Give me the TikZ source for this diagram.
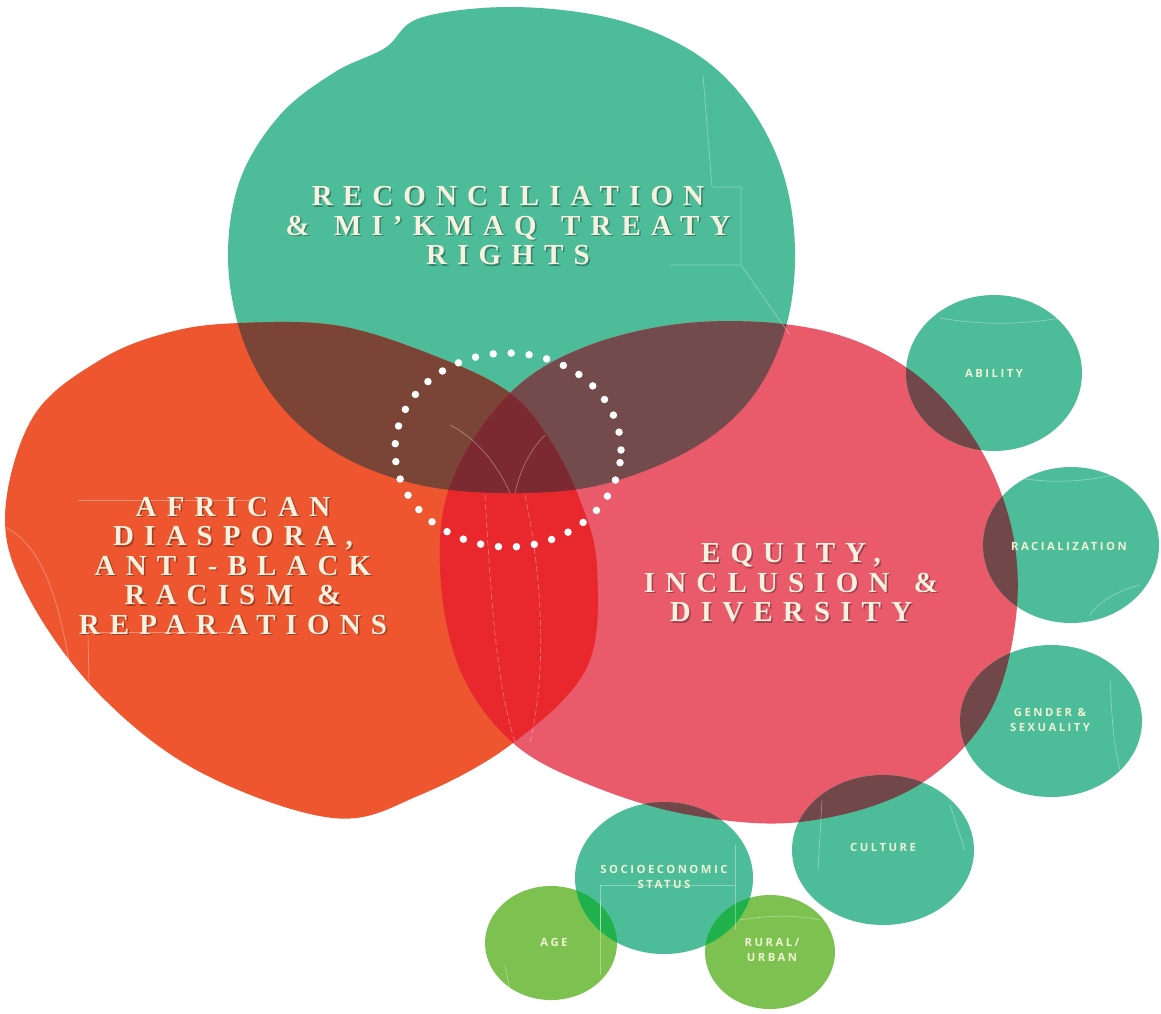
\documentclass[tikz,border=0pt]{standalone}
\usepackage{fontspec}
\setmainfont{Liberation Serif}
\newfontfamily\labelfont[LetterSpace=35,WordSpace=1.4]{Liberation Serif}
\newfontfamily\smallfont[LetterSpace=22]{Open Sans}
\definecolor{cgreen}{HTML}{4DBC98}
\definecolor{corange}{HTML}{EE5630}
\definecolor{cpink}{HTML}{E95B6B}
\definecolor{cgo}{HTML}{7A4536}
\definecolor{cgp}{HTML}{744B4C}
\definecolor{cop}{HTML}{E8282D}
\definecolor{cgop}{HTML}{7B2A31}
\definecolor{csp}{HTML}{72474A}
\definecolor{clight}{HTML}{7DC151}
\definecolor{clg}{HTML}{1EB14C}
\definecolor{ctext}{HTML}{F7F2DF}
\definecolor{csmall}{HTML}{EEF3D2}
\def\pgreen{plot[smooth cycle,tension=0.6] coordinates {(385,48) (420,18) (510,7) (610,18) (690,50) (745,100) (782,170) (795,250) (785,330) (750,400) (690,450) (600,485) (510,493) (420,485) (340,455) (280,405) (243,340) (228,260) (240,180) (280,115) (335,72)}}
\def\porange{plot[smooth cycle,tension=0.6] coordinates {(240,323) (340,326) (440,358) (510,393) (550,440) (580,500) (597,567) (587,667) (513,743) (420,795) (333,818) (200,772) (100,695) (30,600) (5,517) (33,417) (100,360) (170,332)}}
\def\ppink{plot[smooth cycle,tension=0.6] coordinates {(510,393) (590,345) (700,322) (820,330) (910,370) (975,440) (1012,530) (1015,625) (985,720) (910,790) (800,822) (690,815) (590,785) (513,743) (460,670) (440,570) (452,480)}}
\def\eabil{(994,373) ellipse [x radius=88pt, y radius=78pt]}
\def\eracial{(1071,545) ellipse [x radius=88pt, y radius=78pt]}
\def\egender{(1051,721) ellipse [x radius=91pt, y radius=76pt]}
\def\eculture{(883,850) ellipse [x radius=91pt, y radius=75pt]}
\def\esocio{(664,878) ellipse [x radius=89pt, y radius=76pt]}
\def\eage{(551,943) ellipse [x radius=66pt, y radius=57pt]}
\def\erural{(770,952) ellipse [x radius=65pt, y radius=57pt]}
\tikzset{
  mainlbl/.style={font=\labelfont\bfseries\fontsize{29}{29.5}\selectfont, text=ctext, align=center, inner sep=0pt},
  mainsh/.style={mainlbl, text=black, opacity=0.3},
  smalllbl/.style={font=\smallfont\bfseries\fontsize{11.3}{15.5}\selectfont, text=csmall, align=center, inner sep=0pt},
  faint/.style={draw=white, draw opacity=0.35, line width=0.7pt},
  faintd/.style={faint, dashed, dash pattern=on 6pt off 3pt},
}
\begin{document}
\begin{tikzpicture}[x=1pt,y=-1pt]
\useasboundingbox (0,0) rectangle (1161,1013);
\fill[white] (0,0) rectangle (1161,1013);
% big blobs
\fill[cgreen] \pgreen;
\fill[corange] \porange;
\fill[cpink] \ppink;
\begin{scope}\clip \pgreen; \fill[cgo] \porange; \fill[cgp] \ppink; \end{scope}
\begin{scope}\clip \porange; \fill[cop] \ppink; \end{scope}
\begin{scope}\clip \pgreen; \clip \porange; \fill[cgop] \ppink; \end{scope}
% small circles
\fill[cgreen] \eabil; \fill[cgreen] \eracial; \fill[cgreen] \egender;
\fill[cgreen] \eculture; \fill[cgreen] \esocio;
\begin{scope}\clip \ppink; \fill[csp] \eabil; \fill[csp] \eracial; \fill[csp] \egender; \fill[csp] \eculture; \fill[csp] \esocio; \end{scope}
\fill[clight] \eage; \fill[clight] \erural;
\begin{scope}\clip \esocio; \fill[clg] \eage; \fill[clg] \erural; \end{scope}
% faint decorative lines
\draw[faint] (703,75) -- (712,187) -- (741,187) -- (741,265) -- (670,265);
\draw[faint] (741,265) -- (790,335);
\draw[faint] (78,500) -- (250,500);
\draw[faint] (83,632) -- (233,632);
\draw[faint] (88,632) -- (90,735);
\draw[faint] (5,527) .. controls (40,545) and (60,590) .. (75,700);
\draw[faintd] (485,495) .. controls (490,580) and (495,680) .. (515,742);
\draw[faintd] (525,495) .. controls (545,590) and (545,680) .. (530,742);
\draw[faint] (450,425) .. controls (480,440) and (500,470) .. (510,493);
\draw[faint] (545,435) .. controls (530,450) and (520,470) .. (515,493);
\draw[faint] (940,318) .. controls (980,325) and (1020,325) .. (1060,318);
\draw[faint] (1020,478) .. controls (1060,485) and (1100,480) .. (1130,470);
\draw[faint] (1090,615) .. controls (1100,600) and (1120,590) .. (1140,585);
\draw[faint] (1110,680) .. controls (1112,710) and (1112,740) .. (1120,770);
\draw[faint] (822,800) -- (818,870);
\draw[faint] (950,805) .. controls (955,820) and (960,835) .. (965,850);
\draw[faint] (600,885) -- (735,885);
\draw[faint] (600,885) -- (600,930);
\draw[faint] (735,845) -- (735,930);
\draw[faint] (505,965) -- (510,990);
\draw[faint] (600,900) -- (600,975);
\draw[faint] (740,920) .. controls (770,915) and (800,915) .. (820,920);
% dotted ring
\draw[white, line width=7.5pt, line cap=round, dash pattern=on 0pt off 18pt] (508,450) ellipse [x radius=113pt, y radius=97pt];
% main labels
\node[mainsh] (recsh) at (509.5,227.5) {RECONCILIATION\\\& MI’KMAQ TREATY\\RIGHTS};
\node[mainlbl] (rec) at (508,226) {RECONCILIATION\\\& MI’KMAQ TREATY\\RIGHTS};
\node[mainsh] (afrsh) at (234.5,567.5) {AFRICAN\\DIASPORA,\\ANTI-BLACK\\RACISM \&\\REPARATIONS};
\node[mainlbl] (afr) at (233,566) {AFRICAN\\DIASPORA,\\ANTI-BLACK\\RACISM \&\\REPARATIONS};
\node[mainsh] (eqsh) at (792.5,584.5) {EQUITY,\\INCLUSION \&\\DIVERSITY};
\node[mainlbl] (eq) at (791,583) {EQUITY,\\INCLUSION \&\\DIVERSITY};
% small labels
\node[smalllbl] (abil) at (994,373) {ABILITY};
\node[smalllbl] (racial) at (1069,546) {RACIALIZATION};
\node[smalllbl] (gender) at (1050,720) {GENDER \&\\SEXUALITY};
\node[smalllbl] (culture) at (883,847) {CULTURE};
\node[smalllbl] (socio) at (664,877) {SOCIOECONOMIC\\STATUS};
\node[smalllbl] (age) at (554,942) {AGE};
\node[smalllbl] (rural) at (772,950) {RURAL/\\URBAN};
\end{tikzpicture}
\end{document}
